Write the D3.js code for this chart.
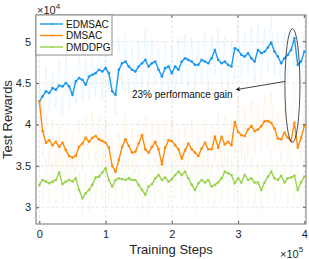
<!DOCTYPE html>
<html><head><meta charset="utf-8">
<script src="https://cdn.jsdelivr.net/npm/d3@7"></script>
<style>body{margin:0;background:#fff}svg{display:block;font-family:"Liberation Sans",Arial,sans-serif}</style>
</head><body><svg id="c" width="309" height="259"></svg>
<script>
// values in units of 1e4, steps
const seriesNames = ["EDMSAC","DMSAC","DMDDPG"];
const stepInterval = 5000;
const edmsac = [4.28,4.34,4.40,4.38,4.44,4.42,4.47,4.46,4.50,4.46,4.36,4.52,4.56,4.54,4.48,4.58,4.60,4.62,4.66,4.64,4.68,4.62,4.40,4.36,4.66,4.74,4.76,4.70,4.66,4.64,4.70,4.74,4.78,4.70,4.74,4.76,4.66,4.58,4.68,4.70,4.62,4.70,4.66,4.76,4.80,4.78,4.76,4.72,4.72,4.78,4.76,4.74,4.80,4.90,4.78,4.74,4.76,4.72,4.70,4.92,4.90,4.84,4.82,4.86,4.80,4.76,4.90,4.86,4.88,4.93,4.99,4.88,4.82,4.74,4.80,4.84,4.90,5.04,4.72,4.76,4.88];
const dmsac = [4.28,3.92,3.78,3.81,3.75,3.79,3.73,3.78,3.69,3.62,3.60,3.62,3.73,3.77,3.84,3.79,3.84,3.86,3.82,3.80,3.78,3.72,3.50,3.43,3.57,3.73,3.82,3.74,3.66,3.67,3.77,3.87,3.70,3.66,3.73,3.79,3.70,3.52,3.72,3.81,3.80,3.75,3.70,3.59,3.69,3.77,3.70,3.66,3.62,3.71,3.78,3.70,3.70,3.85,3.72,3.85,3.76,3.79,3.75,4.03,3.91,3.87,3.86,3.94,3.98,3.92,3.94,3.98,4.04,4.04,4.02,3.95,3.83,3.82,3.90,3.84,3.80,4.02,3.72,3.84,3.98];
const dmddpg = [3.27,3.33,3.31,3.29,3.31,3.33,3.42,3.28,3.31,3.33,3.31,3.35,3.21,3.11,3.17,3.21,3.27,3.36,3.37,3.42,3.47,3.33,3.25,3.33,3.35,3.34,3.33,3.35,3.33,3.33,3.27,3.21,3.15,3.25,3.28,3.35,3.39,3.33,3.36,3.31,3.34,3.39,3.43,3.39,3.43,3.35,3.27,3.21,3.29,3.33,3.30,3.33,3.25,3.27,3.30,3.35,3.43,3.41,3.39,3.29,3.35,3.30,3.39,3.33,3.35,3.30,3.30,3.21,3.30,3.37,3.43,3.35,3.33,3.38,3.30,3.35,3.36,3.38,3.21,3.30,3.37];
const edmsacRaw = [4.55,4.05,4.70,4.15,4.62,4.20,4.78,4.12,4.85,4.18,4.60,4.25,4.90,4.28,4.80,4.30,4.95,4.35,5.00,4.30,4.98,4.40,4.62,4.10,5.05,4.42,5.10,4.38,4.95,4.35,5.02,4.45,5.15,4.40,5.05,4.48,4.92,4.30,5.00,4.40,4.95,4.35,5.05,4.50,5.10,4.45,5.05,4.42,5.00,4.50,5.12,4.40,5.08,4.60,5.15,4.45,5.05,4.40,5.00,4.55,5.25,4.55,5.10,4.60,5.18,4.50,5.22,4.55,5.15,4.62,5.30,4.60,5.10,4.45,5.12,4.55,5.18,4.70,5.00,4.40,5.15];
const dmsacRaw = [4.40,3.60,4.10,3.50,4.05,3.45,4.00,3.50,3.95,3.35,3.90,3.40,4.05,3.45,4.10,3.55,4.15,3.55,4.10,3.50,4.05,3.45,3.80,3.20,3.90,3.45,4.15,3.45,3.95,3.40,4.05,3.60,4.10,3.40,4.00,3.50,4.00,3.30,4.05,3.55,4.10,3.45,3.95,3.35,4.00,3.50,4.05,3.40,3.95,3.40,4.05,3.45,4.00,3.55,4.15,3.45,4.10,3.50,4.05,3.60,4.35,3.60,4.20,3.60,4.30,3.65,4.25,3.70,4.35,3.70,4.40,3.70,4.15,3.55,4.20,3.55,4.10,4.50,4.00,3.55,4.25];
const dmddpgRaw = [3.50,3.05,3.60,3.05,3.55,3.00,3.70,3.05,3.55,3.10,3.60,3.05,3.45,2.90,3.40,2.95,3.50,3.05,3.60,3.10,3.70,3.05,3.50,3.00,3.60,3.10,3.55,3.05,3.60,3.05,3.50,2.95,3.40,2.95,3.50,3.05,3.60,3.05,3.60,3.00,3.55,3.10,3.70,3.10,3.65,3.05,3.50,2.95,3.55,3.05,3.55,3.05,3.50,3.00,3.55,3.05,3.65,3.15,3.60,3.05,3.60,3.00,3.65,3.05,3.60,3.00,3.55,2.95,3.55,3.10,3.70,3.05,3.60,3.10,3.55,3.05,3.60,3.10,3.45,3.00,3.60];
const xTicks = [0,100000,200000,300000,400000];
const xTickLabels = ["0","1","2","3","4"];
const yTicks = [3,3.5,4,4.5,5];
const yTickLabels = ["3","3.5","4","4.5","5"];
const colors = ["#1a98f0","#ff8a0a","#9ad24e"];
const annotationText = "23% performance gain";

const svg = d3.select("#c");
const L=36,R=306,T=15,B=224;
const x = d3.scaleLinear().domain([-5000,402500]).range([L,R]);
const y = d3.scaleLinear().domain([2.798,5.322]).range([B,T]);
const axisCol="#262626";

svg.append("defs").append("clipPath").attr("id","clip").append("rect").attr("x",L).attr("y",T).attr("width",R-L).attr("height",B-T);

// grid
const grid = svg.append("g");
xTicks.forEach(t=>grid.append("line").attr("x1",x(t)).attr("x2",x(t)).attr("y1",T).attr("y2",B).attr("stroke","#d8d8d8").attr("stroke-width",0.6).attr("stroke-dasharray","3,2"));
yTicks.forEach(t=>grid.append("line").attr("y1",y(t)).attr("y2",y(t)).attr("x1",L).attr("x2",R).attr("stroke","#d8d8d8").attr("stroke-width",0.6).attr("stroke-dasharray","3,2"));

const series=[{name:seriesNames[0],v:edmsac,raw:edmsacRaw,c:colors[0]},{name:seriesNames[1],v:dmsac,raw:dmsacRaw,c:colors[1]},{name:seriesNames[2],v:dmddpg,raw:dmddpgRaw,c:colors[2]}];
const line = d3.line().x((d,i)=>x(i*stepInterval)).y(d=>y(d));
const plot = svg.append("g").attr("clip-path","url(#clip)");
// raw faint traces
series.slice().reverse().forEach(s=>{
  plot.append("path").attr("d",line(s.raw)).attr("fill","none").attr("stroke",s.c).attr("stroke-opacity",0.09).attr("stroke-width",0.9);
});
series.forEach(s=>{
  plot.append("path").attr("d",line(s.v)).attr("fill","none").attr("stroke",s.c).attr("stroke-width",1.4);
  plot.selectAll(null).data(s.v).enter().append("circle").attr("cx",(d,i)=>x(i*stepInterval)).attr("cy",d=>y(d)).attr("r",1.3).attr("fill",s.c);
});

// axes
const xa = svg.append("g").attr("transform",`translate(0,${B})`).call(d3.axisBottom(x).tickValues(xTicks).tickFormat((d,i)=>xTickLabels[i]).tickSize(-3).tickPadding(6));
const ya = svg.append("g").attr("transform",`translate(${L},0)`).call(d3.axisLeft(y).tickValues(yTicks).tickFormat((d,i)=>yTickLabels[i]).tickSize(-3).tickPadding(5));
[xa,ya].forEach(a=>{a.select(".domain").remove();a.selectAll("line").attr("stroke","#555");a.selectAll("text").attr("fill",axisCol).style("font-size","11px").style("font-family","'Liberation Sans',Arial");});
// top/right ticks
xTicks.forEach(t=>svg.append("line").attr("x1",x(t)).attr("x2",x(t)).attr("y1",T).attr("y2",T+3).attr("stroke","#555"));
yTicks.forEach(t=>svg.append("line").attr("y1",y(t)).attr("y2",y(t)).attr("x1",R).attr("x2",R-3).attr("stroke","#555"));
svg.append("rect").attr("x",L).attr("y",T).attr("width",R-L).attr("height",B-T).attr("fill","none").attr("stroke","#8a8a8a").attr("stroke-width",1.2);

// exponents
const e1 = svg.append("text").attr("x",37).attr("y",14).attr("fill",axisCol).style("font-size","11px");
e1.append("tspan").text("×10");
e1.append("tspan").attr("dy",-5).style("font-size","8px").text("4");
const e2 = svg.append("text").attr("x",280).attr("y",258).attr("fill",axisCol).style("font-size","11px");
e2.append("tspan").text("×10");
e2.append("tspan").attr("dy",-6).style("font-size","8px").text("5");

// axis labels
svg.append("text").attr("x",(L+R)/2).attr("y",254).attr("text-anchor","middle").attr("fill",axisCol).style("font-size","13px").text("Training Steps");
svg.append("text").attr("transform",`translate(12,${(T+B)/2}) rotate(-90)`).attr("text-anchor","middle").attr("fill",axisCol).style("font-size","13px").text("Test Rewards");

// annotation
svg.append("text").attr("x",132).attr("y",98).attr("fill","#111").style("font-size","10px").text(annotationText);
svg.append("defs").append("marker").attr("id","ah").attr("viewBox","0 0 10 10").attr("refX",9).attr("refY",5).attr("markerWidth",6).attr("markerHeight",6).attr("orient","auto").append("path").attr("d","M0,0 L10,5 L0,10 L3,5 Z").attr("fill","#111");
svg.append("line").attr("x1",x(371000)).attr("y1",y(4.52)).attr("x2",x(297000)).attr("y2",y(4.42)).attr("stroke","#111").attr("stroke-width",0.8).attr("marker-end","url(#ah)");
svg.append("ellipse").attr("cx",x(382000)).attr("cy",y(4.47)).attr("rx",7.5).attr("ry",57).attr("fill","none").attr("stroke","#222").attr("stroke-width",0.8);

// legend
const lg = svg.append("g");
lg.append("rect").attr("x",L).attr("y",T).attr("width",76).attr("height",40).attr("fill","#fff").attr("stroke","#8a8a8a").attr("stroke-width",1);
series.forEach((s,i)=>{
  const yy=T+9+i*11.5;
  lg.append("line").attr("x1",40).attr("x2",63).attr("y1",yy).attr("y2",yy).attr("stroke",s.c).attr("stroke-width",1.4);
  lg.append("circle").attr("cx",51.5).attr("cy",yy).attr("r",1.1).attr("fill",s.c);
  lg.append("text").attr("x",66).attr("y",yy+3.6).attr("fill","#111").style("font-size","10px").text(s.name);
});
</script></body></html>
